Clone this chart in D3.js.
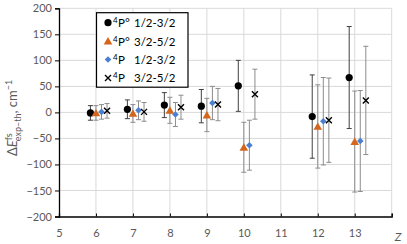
<!DOCTYPE html>
<html><head><meta charset="utf-8">
<script src="https://cdn.jsdelivr.net/npm/d3@7"></script>
<style>body{margin:0;background:#fff}svg{display:block}</style>
</head><body>
<script>
const Z = [6, 7, 8, 9, 10, 12, 13];
const s1 = [-1, 6, 14, 12, 51, -8, 67];
const e1 = [14, 18, 24, 32, 49, 80, 98];
const s2 = [-1, -2, 4, -5, -67, -27, -56];
const e2 = [14, 17, 25, 32, 48, 80, 97];
const s3 = [1, 4, -4, 18, -63, -17, -55];
const e3 = [14, 18, 23, 32, 48, 84, 97];
const s4 = [3, 1, 10, 15, 35, -15, 23];
const e4 = [14, 18, 23, 31, 48, 81, 104];
const xTicks = [5, 6, 7, 8, 9, 10, 11, 12, 13];
const yTicks = [200, 150, 100, 50, 0, -50, -100, -150, -200];
const legendLabels = [["P°", "1/2-3/2"], ["P°", "3/2-5/2"], ["P", "1/2-3/2"], ["P", "3/2-5/2"]];

const W = 407, H = 244;
const svg = d3.select("body").append("svg").attr("width", W).attr("height", H);
const x = d3.scaleLinear().domain([5, 14]).range([59, 391.7]);
const y = d3.scaleLinear().domain([-200, 200]).range([216.5, 8.3]);
const font = "Lato, 'Open Sans', sans-serif";
const gray = "#595959";

// gridlines
svg.append("g").selectAll("line.h").data(yTicks.filter(d => d !== -200)).join("line")
  .attr("x1", x(5)).attr("x2", x(14)).attr("y1", d => y(d)).attr("y2", d => y(d))
  .attr("stroke", "#d9d9d9").attr("stroke-width", 1);
svg.append("g").selectAll("line.v").data(d3.range(6, 15)).join("line")
  .attr("x1", d => x(d)).attr("x2", d => x(d)).attr("y1", y(200)).attr("y2", y(-200))
  .attr("stroke", "#d9d9d9").attr("stroke-width", 1);

// axes
const yAxis = svg.append("g").attr("transform", `translate(${x(5)},0)`)
  .call(d3.axisLeft(y).tickValues(yTicks).tickSize(4).tickPadding(3));
yAxis.select(".domain").attr("stroke", "#000").attr("stroke-width", 1.3);
yAxis.selectAll(".tick line").attr("stroke", "#000");
yAxis.selectAll("text").attr("fill", gray).attr("font-size", 11).attr("font-family", font);

const xAxis = svg.append("g").attr("transform", `translate(0,${y(-200)})`)
  .call(d3.axisBottom(x).tickValues(d3.range(5, 15)).tickSize(-3).tickPadding(13).tickFormat(d => xTicks.includes(d) ? d : ""));
xAxis.select(".domain").attr("stroke", "#000").attr("stroke-width", 1.3);
xAxis.selectAll(".tick line").attr("stroke", "#000");
xAxis.selectAll("text").attr("fill", gray).attr("font-size", 11).attr("font-family", font);
svg.append("text").attr("x", 398).attr("y", y(-200) + 24).attr("text-anchor", "middle")
  .attr("font-size", 12).attr("font-style", "italic").attr("fill", gray).attr("font-family", font).text("Z");

// series
const series = [
  {v: s1, e: e1, off: -0.15, type: "circle", color: "#000", bar: "#404040"},
  {v: s2, e: e2, off: 0, type: "triangle", color: "#d4651c", bar: "#8c8c8c"},
  {v: s3, e: e3, off: 0.15, type: "diamond", color: "#4a7fd1", bar: "#8c8c8c"},
  {v: s4, e: e4, off: 0.3, type: "cross", color: "#000", bar: "#8c8c8c"}
];

function marker(g, type, color) {
  if (type === "circle") g.append("circle").attr("r", 3.6).attr("fill", color);
  else if (type === "triangle") g.append("path").attr("d", "M0,-4L4.3,3.4L-4.3,3.4Z").attr("fill", color);
  else if (type === "diamond") g.append("path").attr("d", "M0,-3.3L3.3,0L0,3.3L-3.3,0Z").attr("fill", color);
  else g.append("path").attr("d", "M-3,-3L3,3M-3,3L3,-3").attr("stroke", color).attr("stroke-width", 1.4);
}

series.forEach(s => {
  const g = svg.append("g");
  Z.forEach((z, i) => {
    const cx = x(z + s.off);
    const top = y(s.v[i] + s.e[i]), bot = y(s.v[i] - s.e[i]);
    g.append("line").attr("x1", cx).attr("x2", cx).attr("y1", top).attr("y2", bot).attr("stroke", s.bar).attr("stroke-width", 1);
    [top, bot].forEach(yy => g.append("line").attr("x1", cx - 2.5).attr("x2", cx + 2.5).attr("y1", yy).attr("y2", yy).attr("stroke", s.bar).attr("stroke-width", 1));
  });
});
series.forEach(s => {
  Z.forEach((z, i) => {
    const m = svg.append("g").attr("transform", `translate(${x(z + s.off)},${y(s.v[i])})`);
    marker(m, s.type, s.color);
  });
});

// legend
const lg = svg.append("g");
lg.append("rect").attr("x", 96.5).attr("y", 12.7).attr("width", 91.5).attr("height", 74.5)
  .attr("fill", "#fff").attr("stroke", "#000").attr("stroke-width", 1.2);
legendLabels.forEach((lab, i) => {
  const cy = 22.7 + i * 18.4;
  const m = lg.append("g").attr("transform", `translate(108,${cy})`);
  marker(m, series[i].type, series[i].color);
  const t = lg.append("text").attr("y", cy + 4.5).attr("font-family", font).attr("fill", "#000").attr("font-size", 11.5);
  t.append("tspan").attr("x", 113).attr("font-size", 8).attr("dy", -4).text("4");
  t.append("tspan").attr("x", 118).attr("dy", 4).text(lab[0]);
  t.append("tspan").attr("x", 134).text(lab[1]);
});

// y title
const yt = svg.append("text").attr("transform", "translate(17,118) rotate(-90)").attr("text-anchor", "middle")
  .attr("font-family", font).attr("fill", gray).attr("font-size", 13);
yt.append("tspan").text("Δ");
yt.append("tspan").attr("font-style", "italic").text("E");
yt.append("tspan").attr("font-size", 9).attr("dy", -5).text("fs");
yt.append("tspan").attr("font-size", 9).attr("dy", 9).attr("dx", -8).text("exp–th");
yt.append("tspan").attr("dy", -4).text(", cm");
yt.append("tspan").attr("font-size", 9).attr("dy", -5).text("−1");
</script>
</body></html>
